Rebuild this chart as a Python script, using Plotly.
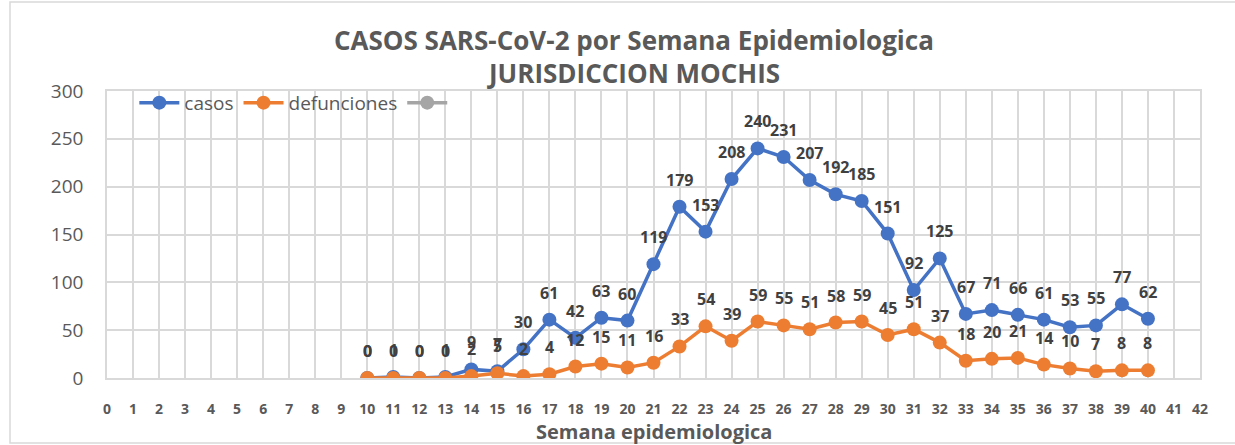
import plotly.graph_objects as go

# Semanas epidemiológicas y series
semanas = list(range(10, 41))
casos = [0, 1, 0, 1, 9, 7, 30, 61, 42, 63, 60, 119, 179, 153, 208, 240, 231,
         207, 192, 185, 151, 92, 125, 67, 71, 66, 61, 53, 55, 77, 62]
defunciones = [0, 0, 0, 0, 2, 5, 2, 4, 12, 15, 11, 16, 33, 54, 39, 59, 55,
               51, 58, 59, 45, 51, 37, 18, 20, 21, 14, 10, 7, 8, 8]
x_ticks = list(range(0, 43))
y_ticks = list(range(0, 301, 50))

AZUL = "#4472C4"
NARANJA = "#ED7D31"
GRIS = "#A5A5A5"
GRID = "#D9D9D9"
TXT = "#595959"
FONT = "Open Sans"

fig = go.Figure()
fig.add_trace(go.Scatter(
    x=semanas, y=casos, name="casos", mode="lines+markers",
    line=dict(color=AZUL, width=3.5), marker=dict(color=AZUL, size=14),
))
fig.add_trace(go.Scatter(
    x=semanas, y=defunciones, name="defunciones", mode="lines+markers",
    line=dict(color=NARANJA, width=3.5), marker=dict(color=NARANJA, size=14),
))
# serie vacía (aparece solo en la leyenda)
fig.add_trace(go.Scatter(
    x=[None], y=[None], name=" ", mode="lines+markers",
    line=dict(color=GRIS, width=3.5), marker=dict(color=GRIS, size=14),
))

# Etiquetas de datos sobre cada punto
for serie in (casos, defunciones):
    for s, v in zip(semanas, serie):
        fig.add_annotation(
            x=s, y=v, text=str(v), showarrow=False, yshift=27,
            font=dict(family=FONT, size=16, color="#404040", weight="bold"),
        )

# Títulos como texto en coordenadas del papel
fig.add_annotation(
    xref="paper", yref="paper", x=0.482, y=(378 - 40) / 287,
    text="CASOS SARS-CoV-2 por Semana Epidemiologica", showarrow=False,
    xanchor="center", yanchor="middle",
    font=dict(family=FONT, size=26, color=TXT, weight="bold"),
)
fig.add_annotation(
    xref="paper", yref="paper", x=0.482, y=(378 - 73) / 287,
    text="JURISDICCION MOCHIS", showarrow=False,
    xanchor="center", yanchor="middle",
    font=dict(family=FONT, size=26, color=TXT, weight="bold"),
)
# Título del eje X
fig.add_annotation(
    xref="paper", yref="paper", x=0.5, y=(378 - 431) / 287,
    text="Semana epidemiologica", showarrow=False,
    xanchor="center", yanchor="middle",
    font=dict(family=FONT, size=20, color=TXT, weight="bold"),
)

# Marco exterior del gráfico
fig.add_shape(
    type="rect", xref="paper", yref="paper",
    x0=(10 - 107) / 1093, x1=(1240 - 107) / 1093,
    y0=(378 - 443) / 287, y1=(378 - 2) / 287,
    line=dict(color=GRID, width=1.5), layer="below",
)

fig.update_layout(
    width=1235, height=445,
    margin=dict(l=107, r=35, t=91, b=67),
    paper_bgcolor="white", plot_bgcolor="white",
    font=dict(family=FONT, color=TXT),
    legend=dict(
        orientation="h", x=0.025, y=1.025, xanchor="left", yanchor="top",
        bgcolor="rgba(0,0,0,0)", font=dict(family=FONT, size=19, color=TXT),
        itemwidth=40, tracegroupgap=0,
    ),
    showlegend=True,
)

fig.update_xaxes(
    range=[0, 42], tickvals=x_ticks, ticktext=[str(t) for t in x_ticks],
    showgrid=True, gridcolor=GRID, gridwidth=1.5,
    showline=True, mirror=True, linecolor=GRID, linewidth=1.5,
    zeroline=False, ticks="outside", ticklen=17, tickcolor="rgba(0,0,0,0)",
    tickfont=dict(family=FONT, size=14, color=TXT, weight="bold"),
    automargin=False,
)
fig.update_yaxes(
    range=[0, 300], tickvals=y_ticks,
    showgrid=True, gridcolor=GRID, gridwidth=1.5,
    showline=True, mirror=True, linecolor=GRID, linewidth=1.5,
    zeroline=False, ticks="outside", ticklen=18, tickcolor="rgba(0,0,0,0)",
    tickfont=dict(family=FONT, size=19, color=TXT),
    automargin=False,
)

fig.write_html("out.html")
